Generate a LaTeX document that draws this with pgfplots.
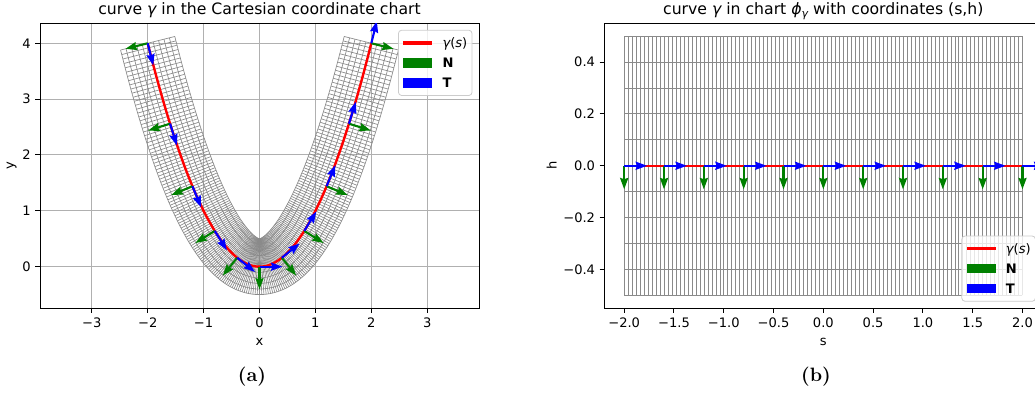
\documentclass[border=0pt]{standalone}
\usepackage{fontspec}
\usepackage{pgfplots}
\usepackage{pgfplotstable}
\pgfplotsset{compat=1.18}
\usetikzlibrary{arrows.meta}
\newfontfamily\dejavu{DejaVu Sans}
\definecolor{mplgreen}{HTML}{008000}
\definecolor{mplblue}{HTML}{0000FF}
\definecolor{mplred}{HTML}{FF0000}
\definecolor{meshgray}{HTML}{8A8A8A}
\definecolor{gridgray}{HTML}{B0B0B0}
\definecolor{legedge}{HTML}{CCCCCC}

% curve gamma(s) = (x,y), unit normal (nx,ny), s = -2 ... 2 step 0.02
\pgfplotstableread{
x y nx ny
-2.00 4.0000 -0.97016 -0.24254
-1.98 3.9204 -0.96957 -0.24484
-1.96 3.8416 -0.96898 -0.24719
-1.94 3.7636 -0.96837 -0.24958
-1.92 3.6864 -0.96772 -0.25201
-1.90 3.6100 -0.96706 -0.25449
-1.88 3.5344 -0.96640 -0.25702
-1.86 3.4596 -0.96571 -0.25960
-1.84 3.3856 -0.96501 -0.26223
-1.82 3.3124 -0.96427 -0.26491
-1.80 3.2400 -0.96350 -0.26764
-1.78 3.1684 -0.96273 -0.27043
-1.76 3.0976 -0.96195 -0.27328
-1.74 3.0276 -0.96111 -0.27618
-1.72 2.9584 -0.96024 -0.27914
-1.70 2.8900 -0.95938 -0.28217
-1.68 2.8224 -0.95844 -0.28525
-1.66 2.7556 -0.95749 -0.28840
-1.64 2.6896 -0.95655 -0.29163
-1.62 2.6244 -0.95551 -0.29491
-1.60 2.5600 -0.95450 -0.29828
-1.58 2.4964 -0.95340 -0.30171
-1.56 2.4336 -0.95229 -0.30522
-1.54 2.3716 -0.95113 -0.30881
-1.52 2.3104 -0.94994 -0.31248
-1.50 2.2500 -0.94869 -0.31623
-1.48 2.1904 -0.94738 -0.32006
-1.46 2.1316 -0.94605 -0.32399
-1.44 2.0736 -0.94467 -0.32801
-1.42 2.0164 -0.94325 -0.33213
-1.40 1.9600 -0.94175 -0.33634
-1.38 1.9044 -0.94019 -0.34065
-1.36 1.8496 -0.93859 -0.34507
-1.34 1.7956 -0.93690 -0.34959
-1.32 1.7424 -0.93517 -0.35423
-1.30 1.6900 -0.93335 -0.35898
-1.28 1.6384 -0.93146 -0.36385
-1.26 1.5876 -0.92950 -0.36885
-1.24 1.5376 -0.92745 -0.37397
-1.22 1.4884 -0.92532 -0.37923
-1.20 1.4400 -0.92308 -0.38462
-1.18 1.3924 -0.92075 -0.39015
-1.16 1.3456 -0.91833 -0.39583
-1.14 1.2996 -0.91578 -0.40166
-1.12 1.2544 -0.91314 -0.40765
-1.10 1.2100 -0.91036 -0.41380
-1.08 1.1664 -0.90746 -0.42012
-1.06 1.1236 -0.90443 -0.42662
-1.04 1.0816 -0.90126 -0.43330
-1.02 1.0404 -0.89791 -0.44015
-1.00 1.0000 -0.89443 -0.44721
-0.98 0.9604 -0.89076 -0.45447
-0.96 0.9216 -0.88692 -0.46194
-0.94 0.8836 -0.88289 -0.46962
-0.92 0.8464 -0.87862 -0.47751
-0.90 0.8100 -0.87415 -0.48564
-0.88 0.7744 -0.86946 -0.49401
-0.86 0.7396 -0.86451 -0.50262
-0.84 0.7056 -0.85929 -0.51148
-0.82 0.6724 -0.85380 -0.52061
-0.80 0.6400 -0.84800 -0.53000
-0.78 0.6084 -0.84189 -0.53967
-0.76 0.5776 -0.83542 -0.54962
-0.74 0.5476 -0.82859 -0.55986
-0.72 0.5184 -0.82138 -0.57040
-0.70 0.4900 -0.81374 -0.58124
-0.68 0.4624 -0.80565 -0.59239
-0.66 0.4356 -0.79710 -0.60386
-0.64 0.4096 -0.78802 -0.61564
-0.62 0.3844 -0.77841 -0.62775
-0.60 0.3600 -0.76822 -0.64018
-0.58 0.3364 -0.75741 -0.65294
-0.56 0.3136 -0.74593 -0.66601
-0.54 0.2916 -0.73376 -0.67941
-0.52 0.2704 -0.72082 -0.69310
-0.50 0.2500 -0.70711 -0.70711
-0.48 0.2304 -0.69253 -0.72139
-0.46 0.2116 -0.67706 -0.73593
-0.44 0.1936 -0.66062 -0.75071
-0.42 0.1764 -0.64319 -0.76570
-0.40 0.1600 -0.62470 -0.78087
-0.38 0.1444 -0.60508 -0.79616
-0.36 0.1296 -0.58430 -0.81153
-0.34 0.1156 -0.56231 -0.82693
-0.32 0.1024 -0.53905 -0.84226
-0.30 0.0900 -0.51449 -0.85749
-0.28 0.0784 -0.48861 -0.87251
-0.26 0.0676 -0.46135 -0.88721
-0.24 0.0576 -0.43273 -0.90152
-0.22 0.0484 -0.40274 -0.91531
-0.20 0.0400 -0.37139 -0.92848
-0.18 0.0324 -0.33872 -0.94089
-0.16 0.0256 -0.30478 -0.95243
-0.14 0.0196 -0.26963 -0.96296
-0.12 0.0144 -0.23337 -0.97238
-0.10 0.0100 -0.19612 -0.98058
-0.08 0.0064 -0.15799 -0.98744
-0.06 0.0036 -0.11915 -0.99288
-0.04 0.0016 -0.07975 -0.99682
-0.02 0.0004 -0.03997 -0.99920
0.00 0.0000 0.00000 -1.00000
0.02 0.0004 0.03997 -0.99920
0.04 0.0016 0.07975 -0.99682
0.06 0.0036 0.11915 -0.99288
0.08 0.0064 0.15799 -0.98744
0.10 0.0100 0.19612 -0.98058
0.12 0.0144 0.23337 -0.97238
0.14 0.0196 0.26963 -0.96296
0.16 0.0256 0.30478 -0.95243
0.18 0.0324 0.33872 -0.94089
0.20 0.0400 0.37139 -0.92848
0.22 0.0484 0.40274 -0.91531
0.24 0.0576 0.43273 -0.90152
0.26 0.0676 0.46135 -0.88721
0.28 0.0784 0.48861 -0.87251
0.30 0.0900 0.51449 -0.85749
0.32 0.1024 0.53905 -0.84226
0.34 0.1156 0.56231 -0.82693
0.36 0.1296 0.58430 -0.81153
0.38 0.1444 0.60508 -0.79616
0.40 0.1600 0.62470 -0.78087
0.42 0.1764 0.64319 -0.76570
0.44 0.1936 0.66062 -0.75071
0.46 0.2116 0.67706 -0.73593
0.48 0.2304 0.69253 -0.72139
0.50 0.2500 0.70711 -0.70711
0.52 0.2704 0.72082 -0.69310
0.54 0.2916 0.73376 -0.67941
0.56 0.3136 0.74593 -0.66601
0.58 0.3364 0.75741 -0.65294
0.60 0.3600 0.76822 -0.64018
0.62 0.3844 0.77841 -0.62775
0.64 0.4096 0.78802 -0.61564
0.66 0.4356 0.79710 -0.60386
0.68 0.4624 0.80565 -0.59239
0.70 0.4900 0.81374 -0.58124
0.72 0.5184 0.82138 -0.57040
0.74 0.5476 0.82859 -0.55986
0.76 0.5776 0.83542 -0.54962
0.78 0.6084 0.84189 -0.53967
0.80 0.6400 0.84800 -0.53000
0.82 0.6724 0.85380 -0.52061
0.84 0.7056 0.85929 -0.51148
0.86 0.7396 0.86451 -0.50262
0.88 0.7744 0.86946 -0.49401
0.90 0.8100 0.87415 -0.48564
0.92 0.8464 0.87862 -0.47751
0.94 0.8836 0.88289 -0.46962
0.96 0.9216 0.88692 -0.46194
0.98 0.9604 0.89076 -0.45447
1.00 1.0000 0.89443 -0.44721
1.02 1.0404 0.89791 -0.44015
1.04 1.0816 0.90126 -0.43330
1.06 1.1236 0.90443 -0.42662
1.08 1.1664 0.90746 -0.42012
1.10 1.2100 0.91036 -0.41380
1.12 1.2544 0.91314 -0.40765
1.14 1.2996 0.91578 -0.40166
1.16 1.3456 0.91833 -0.39583
1.18 1.3924 0.92075 -0.39015
1.20 1.4400 0.92308 -0.38462
1.22 1.4884 0.92532 -0.37923
1.24 1.5376 0.92745 -0.37397
1.26 1.5876 0.92950 -0.36885
1.28 1.6384 0.93146 -0.36385
1.30 1.6900 0.93335 -0.35898
1.32 1.7424 0.93517 -0.35423
1.34 1.7956 0.93690 -0.34959
1.36 1.8496 0.93859 -0.34507
1.38 1.9044 0.94019 -0.34065
1.40 1.9600 0.94175 -0.33634
1.42 2.0164 0.94325 -0.33213
1.44 2.0736 0.94467 -0.32801
1.46 2.1316 0.94605 -0.32399
1.48 2.1904 0.94738 -0.32006
1.50 2.2500 0.94869 -0.31623
1.52 2.3104 0.94994 -0.31248
1.54 2.3716 0.95113 -0.30881
1.56 2.4336 0.95229 -0.30522
1.58 2.4964 0.95340 -0.30171
1.60 2.5600 0.95450 -0.29828
1.62 2.6244 0.95551 -0.29491
1.64 2.6896 0.95655 -0.29163
1.66 2.7556 0.95749 -0.28840
1.68 2.8224 0.95844 -0.28525
1.70 2.8900 0.95938 -0.28217
1.72 2.9584 0.96024 -0.27914
1.74 3.0276 0.96111 -0.27618
1.76 3.0976 0.96195 -0.27328
1.78 3.1684 0.96273 -0.27043
1.80 3.2400 0.96350 -0.26764
1.82 3.3124 0.96427 -0.26491
1.84 3.3856 0.96501 -0.26223
1.86 3.4596 0.96571 -0.25960
1.88 3.5344 0.96640 -0.25702
1.90 3.6100 0.96706 -0.25449
1.92 3.6864 0.96772 -0.25201
1.94 3.7636 0.96837 -0.24958
1.96 3.8416 0.96898 -0.24719
1.98 3.9204 0.96957 -0.24484
2.00 4.0000 0.97016 -0.24254
}\curvetab

% arrows in the Cartesian chart: base point, unit tangent T, unit normal N
\pgfplotstableread{
x y Tx Ty Nx Ny
-2.0 4.00 0.24254 -0.97016 -0.97016 -0.24254
-1.6 2.56 0.29828 -0.95450 -0.95450 -0.29828
-1.2 1.44 0.38462 -0.92308 -0.92308 -0.38462
-0.8 0.64 0.53000 -0.84800 -0.84800 -0.53000
-0.4 0.16 0.78087 -0.62470 -0.62470 -0.78087
0.0 0.00 1.00000 0.00000 0.00000 -1.00000
0.4 0.16 0.78087 0.62470 0.62470 -0.78087
0.8 0.64 0.53000 0.84800 0.84800 -0.53000
1.2 1.44 0.38462 0.92308 0.92308 -0.38462
1.6 2.56 0.29828 0.95450 0.95450 -0.29828
2.0 4.00 0.24254 0.97016 0.97016 -0.24254
}\arrowsA

% arrows in chart (s,h)
\pgfplotstableread{
s h
-2.0 0
-1.6 0
-1.2 0
-0.8 0
-0.4 0
0.0 0
0.4 0
0.8 0
1.2 0
1.6 0
2.0 0
}\arrowsB

% constant-h lines of the (s,h) grid: start point
\pgfplotstableread{
s h
-2 -0.5
-2 -0.4
-2 -0.3
-2 -0.2
-2 -0.1
-2 0.0
-2 0.1
-2 0.2
-2 0.3
-2 0.4
-2 0.5
}\hlines

\pgfplotsset{
  mplaxis/.style={
    scale only axis,
    axis line style={line width=0.75pt, black},
    tick align=outside,
    xtick pos=bottom, ytick pos=left,
    major tick length=3.4pt,
    tick style={black, line width=0.75pt},
    tick label style={font=\dejavu\fontsize{9.8}{11.8}\selectfont},
    label style={font=\dejavu\fontsize{9.8}{11.8}\selectfont},
    every axis title shift=0pt,
    title style={font=\dejavu\fontsize{11.76}{14}\selectfont, at={(0.5,1)}, anchor=base, yshift=6.25pt},
    legend cell align=left,
    legend style={
      draw=legedge, line width=0.6pt, rounded corners=2.5pt,
      fill=white, fill opacity=0.8, text opacity=1, draw opacity=1,
      font=\dejavu\fontsize{9.8}{11.8}\selectfont,
      inner xsep=3.6pt, inner ysep=4.5pt,
      row sep=5pt,
      nodes={inner xsep=0pt, inner ysep=0pt, text height=8.5pt, text depth=1.5pt},
      /tikz/every odd column/.append style={column sep=7.9pt},
    },
  },
  legline/.style={legend image code/.code={\fill[##1, sharp corners, fill opacity=1] (0pt,-0.9pt) rectangle (21pt,0.9pt);}},
  legbar/.style={legend image code/.code={\fill[##1, sharp corners, fill opacity=1] (0pt,-3.1pt) rectangle (21pt,3.1pt);}},
  arr/.style={line width=1.6pt, -{Stealth[length=8.5pt, width=6pt, inset=0.9pt]}},
  mesh/.style={meshgray, line width=0.5pt, forget plot},
}

\begin{document}
\begin{tikzpicture}
% ---------------- left panel ----------------
\begin{axis}[mplaxis,
  at={(30pt,64.3pt)}, anchor=south west, width=329.25pt, height=213.75pt,
  xmin=-3.927, xmax=3.927, ymin=-0.745, ymax=4.358,
  xtick={-3,-2,-1,0,1,2,3}, xticklabels={−3,−2,−1,0,1,2,3},
  ytick={0,1,2,3,4}, yticklabels={0,1,2,3,4},
  grid=major, major grid style={gridgray, line width=0.78pt},
  title={curve {\itshape γ} in the Cartesian coordinate chart},
  xlabel={x}, ylabel={y},
  xlabel style={at={(axis description cs:0.5,-0.118)}, anchor=center},
  ylabel style={at={(axis description cs:-0.0645,0.5)}, anchor=center},
  legend style={at={(1,1)}, anchor=north east, xshift=-4.9pt, yshift=-4.9pt},
]
\pgfplotsinvokeforeach{-0.5,-0.4,-0.3,-0.2,-0.1,0,0.1,0.2,0.3,0.4,0.5}{
  \addplot[mesh] table[x expr=\thisrow{x}+(#1)*\thisrow{nx}, y expr=\thisrow{y}+(#1)*\thisrow{ny}] {\curvetab};
}
\addplot[mesh, quiver={u=\thisrow{nx}, v=\thisrow{ny}}]
  table[x expr=\thisrow{x}-0.5*\thisrow{nx}, y expr=\thisrow{y}-0.5*\thisrow{ny}] {\curvetab};
\addplot[mplred, line width=1.8pt, forget plot] table[x=x, y=y] {\curvetab};
\addplot[mplgreen, arr, forget plot, quiver={u=\thisrow{Nx}, v=\thisrow{Ny}, scale arrows=0.41}] table[x=x, y=y] {\arrowsA};
\addplot[mplblue, arr, forget plot, quiver={u=\thisrow{Tx}, v=\thisrow{Ty}, scale arrows=0.41}] table[x=x, y=y] {\arrowsA};
\addlegendimage{legline, mplred}
\addlegendentry{{\itshape γ}({\itshape s})}
\addlegendimage{legbar, mplgreen}
\addlegendentry{\bfseries N}
\addlegendimage{legbar, mplblue}
\addlegendentry{\bfseries T}
\end{axis}

% ---------------- right panel ----------------
\begin{axis}[mplaxis,
  at={(453.2pt,64.3pt)}, anchor=south west, width=328.6pt, height=213.75pt,
  xmin=-2.2, xmax=2.2, ymin=-0.55, ymax=0.55,
  xtick={-2,-1.5,-1,-0.5,0,0.5,1,1.5,2}, xticklabels={−2.0,−1.5,−1.0,−0.5,0.0,0.5,1.0,1.5,2.0},
  ytick={-0.4,-0.2,0,0.2,0.4}, yticklabels={−0.4,−0.2,0.0,0.2,0.4},
  title={curve {\itshape γ} in chart {\itshape ϕ}\raisebox{-2.2pt}{\fontsize{8.2}{9}\selectfont\itshape γ} with coordinates (s,h)},
  xlabel={s}, ylabel={h},
  xlabel style={at={(axis description cs:0.5,-0.118)}, anchor=center},
  ylabel style={at={(axis description cs:-0.12,0.5)}, anchor=center},
  legend style={at={(1,0)}, anchor=south east, xshift=-4.9pt, yshift=4.9pt},
]
\addplot[mesh, line width=0.42pt, each nth point=2, filter discard warning=false, quiver={u=0, v=1}]
  table[x=x, y expr=-0.5] {\curvetab};
\addplot[mesh, line width=0.8pt, quiver={u=4, v=0}] table[x=s, y=h] {\hlines};
\addplot[mplred, line width=1.6pt, forget plot] coordinates {(-2,0) (2,0)};
\addplot[mplgreen, arr, forget plot, quiver={u=0, v=-0.091}] table[x=s, y=h] {\arrowsB};
\addplot[mplblue, arr, forget plot, quiver={u=0.23, v=0}] table[x=s, y=h] {\arrowsB};
\addlegendimage{legline, mplred}
\addlegendentry{{\itshape γ}({\itshape s})}
\addlegendimage{legbar, mplgreen}
\addlegendentry{\bfseries N}
\addlegendimage{legbar, mplblue}
\addlegendentry{\bfseries T}
\end{axis}

\node[scale=1.45, font=\fontsize{10}{12}\selectfont\fontseries{bx}\selectfont] at (189pt,12.75pt) {\textbf{(a)}};
\node[scale=1.45, font=\fontsize{10}{12}\selectfont\fontseries{bx}\selectfont] at (612pt,12.75pt) {\textbf{(b)}};

\pgfresetboundingbox
\path[use as bounding box] (0pt,0pt) rectangle (776.25pt,295.5pt);
\end{tikzpicture}
\end{document}
